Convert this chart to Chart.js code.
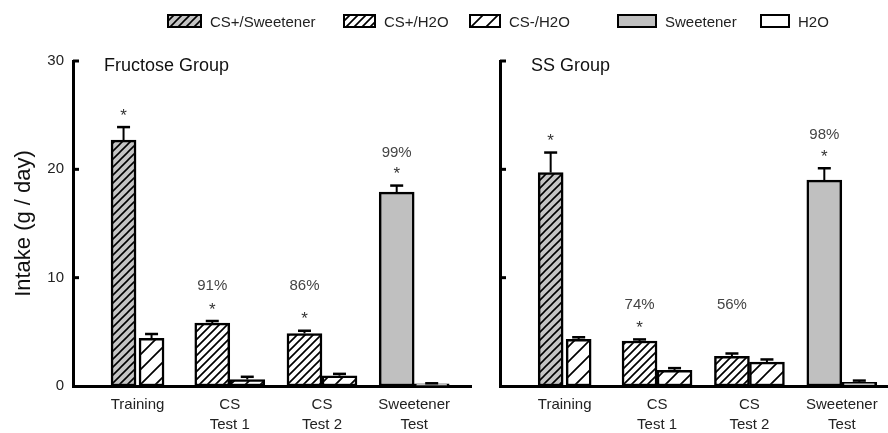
<!DOCTYPE html>
<html><head><meta charset="utf-8">
<script src="https://cdn.jsdelivr.net/npm/chart.js@4.4.1/dist/chart.umd.min.js"></script>
<style>
html,body{margin:0;padding:0;background:#fff;}
#wrap{position:relative;width:888px;height:433px;overflow:hidden;font-family:"Liberation Sans",Arial,sans-serif;}
#c1{position:absolute;left:0;top:0;}
#c2{position:absolute;left:480px;top:0;}
.lg{position:absolute;top:13px;height:16px;display:flex;align-items:center;font-size:15px;color:#222;white-space:nowrap;}
.lg canvas{margin-right:8px;display:block;}
</style></head><body>
<div id="wrap">
<canvas id="c1" width="480" height="433"></canvas>
<canvas id="c2" width="408" height="433"></canvas>
</div>
<script>
// ---- data ----
const categories = ['Training', ['CS', 'Test 1'], ['CS', 'Test 2'], ['Sweetener', 'Test']];
const seriesNames = ['CS+/Sweetener', 'CS+/H2O', 'CS-/H2O', 'Sweetener', 'H2O'];
// which series the left / right bar of every category belongs to
const leftBarSeries = ['CS+/Sweetener', 'CS+/H2O', 'CS+/H2O', 'Sweetener'];
const rightBarSeries = ['CS-/H2O', 'CS-/H2O', 'CS-/H2O', 'H2O'];

const fructoseLeft = [22.7, 5.8, 4.85, 17.9];
const fructoseLeftErr = [1.2, 0.2, 0.25, 0.6];
const fructoseRight = [4.4, 0.6, 0.95, 0.2];
const fructoseRightErr = [0.4, 0.25, 0.17, 0.05];
const fructoseStars = [true, true, true, true];
const fructosePct = ['', '91%', '86%', '99%'];

const ssLeft = [19.7, 4.15, 2.75, 19.0];
const ssLeftErr = [1.85, 0.15, 0.25, 1.1];
const ssRight = [4.3, 1.45, 2.2, 0.35];
const ssRightErr = [0.2, 0.2, 0.25, 0.15];
const ssStars = [true, true, false, true];
const ssPct = ['', '74%', '56%', '98%'];

const panelTitles = ['Fructose Group', 'SS Group'];
const yTitle = 'Intake (g / day)';
const yMin = 0, yMax = 30, yStep = 10;

// ---- styles ----
const FONT = '"Liberation Sans", Arial, sans-serif';
Chart.defaults.font.family = FONT;
Chart.defaults.color = '#222';

function makePattern(size, bg, lw) {
  const c = document.createElement('canvas');
  c.width = size; c.height = size;
  const g = c.getContext('2d');
  g.fillStyle = bg; g.fillRect(0, 0, size, size);
  g.strokeStyle = '#000'; g.lineWidth = lw;
  g.beginPath();
  g.moveTo(0, size); g.lineTo(size, 0);
  g.moveTo(-size / 2, size / 2); g.lineTo(size / 2, -size / 2);
  g.moveTo(size / 2, size * 1.5); g.lineTo(size * 1.5, size / 2);
  g.stroke();
  return g.createPattern(c, 'repeat');
}
const fills = {
  'CS+/Sweetener': makePattern(8, '#c4c4c4', 1.6),
  'CS+/H2O': makePattern(8, '#ffffff', 1.7),
  'CS-/H2O': makePattern(15, '#ffffff', 1.7),
  'Sweetener': '#c0c0c0',
  'H2O': '#ffffff'
};

// ---- legend ----
const legendLeft = [167, 343, 469, 617, 760];
const swatchW = [35, 33, 32, 40, 30];
const wrap = document.getElementById('wrap');
seriesNames.forEach((name, i) => {
  const item = document.createElement('div');
  item.className = 'lg';
  item.style.left = legendLeft[i] + 'px';
  const sw = document.createElement('canvas');
  sw.width = swatchW[i]; sw.height = 14;
  const g = sw.getContext('2d');
  g.fillStyle = fills[name]; g.fillRect(0, 0, sw.width, sw.height);
  g.strokeStyle = '#000'; g.lineWidth = 2;
  g.strokeRect(1, 1, sw.width - 2, sw.height - 2);
  const t = document.createElement('span');
  t.textContent = name;
  item.appendChild(sw); item.appendChild(t);
  wrap.appendChild(item);
});

// ---- chart building ----
function buildDatasets(lv, le, rv, re) {
  const pick = (arr, keep) => arr.map((v, i) => ({x: i, y: keep(i) ? v : null}));
  const isTrain = i => i === 0;
  const isTest = i => i !== 0;
  const defs = [
    {label: 'trainLeft', data: pick(lv, isTrain), errors: le, series: leftBarSeries, barThickness: 28, maxBarThickness: 25},
    {label: 'trainRight', data: pick(rv, isTrain), errors: re, series: rightBarSeries, barThickness: 28, maxBarThickness: 25},
    {label: 'testLeft', data: pick(lv, isTest), errors: le, series: leftBarSeries, barThickness: 35},
    {label: 'testRight', data: pick(rv, isTest), errors: re, series: rightBarSeries, barThickness: 35}
  ];
  return defs.map(d => Object.assign(d, {
    backgroundColor: ctx => (ctx.dataIndex !== undefined ? fills[d.series[ctx.dataIndex]] : '#fff'),
    borderColor: '#000',
    borderWidth: 2.5,
    borderSkipped: false,
    skipNull: true
  }));
}

const annotPlugin = {
  id: 'annot',
  afterDatasetsDraw(chart) {
    const ctx = chart.ctx;
    const ys = chart.scales.y;
    const ca = chart.chartArea;
    const cfg = chart.options.plugins.annot;
    ctx.save();
    // inward tick marks
    ctx.strokeStyle = '#000'; ctx.lineWidth = 3;
    ys.ticks.forEach(t => {
      if (t.value === yMin) return;
      const py = ys.getPixelForValue(t.value);
      ctx.beginPath(); ctx.moveTo(ca.left, py); ctx.lineTo(ca.left + 6, py); ctx.stroke();
    });
    // error bars
    const errTop = {};
    chart.data.datasets.forEach((ds, di) => {
      const meta = chart.getDatasetMeta(di);
      meta.data.forEach((el, i) => {
        const v = ds.data[i].y;
        if (v === null || v === undefined) return;
        const top = ys.getPixelForValue(v + ds.errors[i]);
        if (ds.label.endsWith('Left')) errTop[i] = {x: el.x, y: top};
        ctx.strokeStyle = '#000';
        ctx.lineWidth = 2;
        ctx.beginPath(); ctx.moveTo(el.x, el.y); ctx.lineTo(el.x, top); ctx.stroke();
        ctx.lineWidth = 2.5;
        ctx.beginPath(); ctx.moveTo(el.x - 6.5, top); ctx.lineTo(el.x + 6.5, top); ctx.stroke();
      });
    });
    // stars and percentages
    ctx.textAlign = 'center';
    ctx.textBaseline = 'middle';
    const csPctY = Math.min(errTop[1].y, errTop[2].y) - 35;
    categories.forEach((c, i) => {
      const e = errTop[i];
      if (!e) return;
      if (cfg.stars[i]) {
        ctx.fillStyle = '#333';
        ctx.font = '17px ' + FONT;
        ctx.fillText('*', e.x, e.y - 11);
      }
      if (cfg.pct[i]) {
        ctx.fillStyle = '#444';
        ctx.font = '15px ' + FONT;
        const py = (i === 1 || i === 2) ? csPctY : e.y - 33;
        ctx.fillText(cfg.pct[i], e.x, py);
      }
    });
    // panel title
    ctx.fillStyle = '#111';
    ctx.textAlign = 'left';
    ctx.textBaseline = 'alphabetic';
    ctx.font = '18px ' + FONT;
    ctx.fillText(cfg.title, ca.left + 31, ca.top + 10);
    ctx.restore();
  }
};

function makeChart(canvasId, opts) {
  return new Chart(document.getElementById(canvasId), {
    type: 'bar',
    data: {datasets: buildDatasets(opts.lv, opts.le, opts.rv, opts.re)},
    plugins: [annotPlugin],
    options: {
      responsive: false,
      animation: false,
      devicePixelRatio: 1,
      layout: {padding: {top: 61, right: opts.padRight, left: 0, bottom: 0}},
      plugins: {
        legend: {display: false},
        tooltip: {enabled: false},
        annot: {stars: opts.stars, pct: opts.pct, title: opts.title}
      },
      scales: {
        x: {
          type: 'linear',
          offset: false,
          min: -0.7,
          max: opts.xMax,
          grid: {display: false, offset: false},
          border: {display: true, color: '#000', width: 3},
          afterBuildTicks: s => { s.ticks = categories.map((c, i) => ({value: i})); },
          afterFit: s => { s.height = 47; },
          ticks: {
            autoSkip: false, maxRotation: 0, minRotation: 0, padding: 1,
            color: '#222',
            font: {size: 15, lineHeight: 1.33},
            callback: v => categories[v]
          }
        },
        y: {
          min: yMin, max: yMax,
          grid: {display: false, drawTicks: false},
          border: {display: true, color: '#000', width: 3},
          afterFit: s => { s.width = opts.yWidth; },
          ticks: {
            display: opts.showTicks, stepSize: yStep, padding: 9,
            color: '#222', font: {size: 15}
          },
          title: {
            display: opts.showTitle, text: yTitle, color: '#111',
            font: {size: 22}, padding: {top: 11, bottom: 0}
          }
        }
      }
    }
  });
}

makeChart('c1', {
  lv: fructoseLeft, le: fructoseLeftErr, rv: fructoseRight, re: fructoseRightErr,
  stars: fructoseStars, pct: fructosePct, title: panelTitles[0],
  xMax: 3.616, padRight: 9, yWidth: 73, showTicks: true, showTitle: true
});
makeChart('c2', {
  lv: ssLeft, le: ssLeftErr, rv: ssRight, re: ssRightErr,
  stars: ssStars, pct: ssPct, title: panelTitles[1],
  xMax: 3.5, padRight: 0, yWidth: 20, showTicks: false, showTitle: false
});
</script>
</body></html>
